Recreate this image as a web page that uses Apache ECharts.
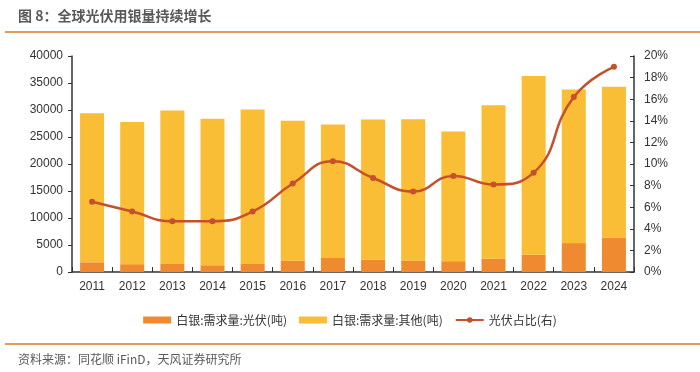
<!DOCTYPE html>
<html><head><meta charset="utf-8">
<script src="https://cdn.jsdelivr.net/npm/echarts@6/dist/echarts.min.js"></script>
<style>html,body{margin:0;padding:0;background:#fff}#c{width:700px;height:372px}</style>
</head><body><div id="c"></div>
<script>
const years = ['2011','2012','2013','2014','2015','2016','2017','2018','2019','2020','2021','2022','2023','2024'];
const pvSilver = [1800,1450,1480,1250,1480,2100,2600,2250,2100,2000,2450,3200,5350,6350];
const otherSilver = [27600,26350,28450,27150,28600,25900,24700,26000,26200,24000,28450,33100,28450,27950];
const pvShare = [6.5,5.6,4.7,4.7,5.6,8.2,10.25,8.7,7.45,8.9,8.1,9.2,16.2,19.0];
const FONT = '"Noto Sans CJK SC", "Liberation Sans", sans-serif';
const NUMFONT = '"Liberation Sans", Arial, sans-serif';
const chart = echarts.init(document.getElementById('c'));
chart.setOption({
  animation:false,
  textStyle:{fontFamily:FONT},
  graphic:[
    {type:'text',left:18,top:9,style:{text:'图 8：全球光伏用银量持续增长',font:'bold 14px '+FONT,fill:'#595959'}},
    {type:'line',shape:{x1:5,y1:32,x2:700,y2:32},style:{stroke:'#E49A5A',lineWidth:2}},
    {type:'line',shape:{x1:5,y1:344,x2:700,y2:344},style:{stroke:'#E49A5A',lineWidth:2}},
    {type:'text',left:18,top:353,style:{text:'资料来源：同花顺 iFinD，天风证券研究所',font:'12px '+FONT,fill:'#595959'}}
  ],
  legend:{
    top:309,left:'center',itemGap:12,itemWidth:28,itemHeight:7,
    textStyle:{fontSize:12,color:'#333',fontFamily:FONT},
    data:[{name:'白银:需求量:光伏(吨)',icon:'rect'},{name:'白银:需求量:其他(吨)',icon:'rect'},{name:'光伏占比(右)'}]
  },
  grid:{left:72,right:66,top:56,bottom:100},
  xAxis:{type:'category',data:years,
    axisLine:{lineStyle:{color:'#333',width:1.5}},
    axisTick:{show:true,inside:true,length:5,lineStyle:{color:'#333'}},
    axisLabel:{color:'#333',fontSize:12,margin:9,fontFamily:NUMFONT}},
  yAxis:[
    {type:'value',min:0,max:40000,interval:5000,
     axisLine:{show:true,lineStyle:{color:'#333',width:1.5}},
     axisTick:{show:true,length:4,lineStyle:{color:'#333'}},
     splitLine:{show:false},
     axisLabel:{color:'#333',fontSize:12,margin:9,fontFamily:NUMFONT,formatter:function(v){return String(v);}}},
    {type:'value',min:0,max:20,interval:2,
     axisLine:{show:true,lineStyle:{color:'#333',width:1.5}},
     axisTick:{show:true,inside:true,length:4,lineStyle:{color:'#333'}},
     splitLine:{show:false},
     axisLabel:{color:'#333',fontSize:12,margin:10,fontFamily:NUMFONT,formatter:'{value}%'}}
  ],
  series:[
    {name:'白银:需求量:光伏(吨)',type:'bar',stack:'s',barWidth:24,data:pvSilver,itemStyle:{color:'#EF8A30'}},
    {name:'白银:需求量:其他(吨)',type:'bar',stack:'s',barWidth:24,data:otherSilver,itemStyle:{color:'#FABD36'}},
    {name:'光伏占比(右)',type:'line',yAxisIndex:1,smooth:0.5,data:pvShare,
     symbol:'circle',symbolSize:6,lineStyle:{color:'#C6502A',width:2.5},itemStyle:{color:'#C6502A'}}
  ]
});
</script></body></html>
